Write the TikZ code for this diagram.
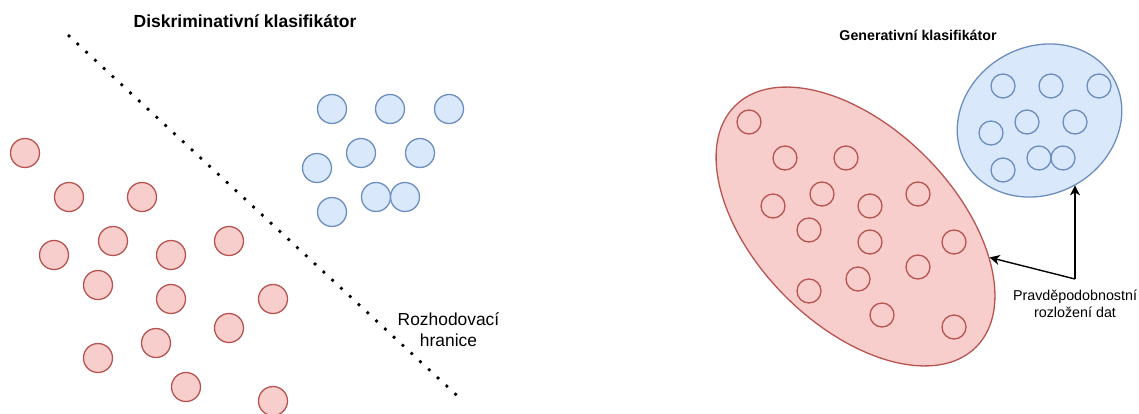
\documentclass[tikz,border=0pt]{standalone}
\usepackage{fontspec}
\setmainfont{Liberation Sans}
\usetikzlibrary{arrows.meta,shapes.geometric}
\definecolor{redF}{HTML}{F8CECC}
\definecolor{redS}{HTML}{B85450}
\definecolor{bluF}{HTML}{DAE8FC}
\definecolor{bluS}{HTML}{6C8EBF}
\tikzset{
  rdot/.style={circle,draw=redS,fill=redF,line width=1.3pt,minimum size=29pt,inner sep=0pt},
  bdot/.style={circle,draw=bluS,fill=bluF,line width=1.3pt,minimum size=29pt,inner sep=0pt},
  rring/.style={circle,draw=redS,line width=1.3pt,minimum size=24pt,inner sep=0pt},
  bring/.style={circle,draw=bluS,line width=1.3pt,minimum size=24pt,inner sep=0pt},
  boundary/.style={line width=2.7pt,dash pattern=on 2.7pt off 9.28pt,black},
  ptr/.style={line width=1.4pt,-{Stealth[length=10pt,width=10pt,inset=3pt]}},
  titlebig/.style={font=\fontsize{17.5}{21}\selectfont\bfseries,inner sep=0pt,anchor=base},
  titlesmall/.style={font=\fontsize{14.2}{17}\selectfont\bfseries,inner sep=0pt,anchor=base},
}
\begin{document}
\begin{tikzpicture}[x=1pt,y=-1pt]
\useasboundingbox (0,0) rectangle (1139,414);
% left panel
\node[titlebig] (t1) at (245,28) {Diskriminativní klasifikátor};
\coordinate (b1) at (68,35);
\coordinate (b2) at (457.5,396);
\draw[boundary] (b1) -- (b2);
\foreach \x/\y [count=\i] in {25/153,69/197,142/197,113/241,54/255,171/255,229/241,98/285,171/299,273/299,229/328,156/343,98/358,186/387,273/401}
  \node[rdot] (L\i) at (\x,\y) {};
\foreach \x/\y [count=\i] in {332/109,390/109,449/109,361/153,420/153,317/168,376/197,405/197,332/212}
  \node[bdot] (B\i) at (\x,\y) {};
\node[font=\fontsize{17.4}{21}\selectfont,align=center,inner sep=0pt,anchor=north] (dec) at (448.5,312) {Rozhodovací\\hranice};
% right panel
\node[titlesmall] (t2) at (918,41) {Generativní klasifikátor};
\node[ellipse,draw=redS,fill=redF,line width=1.3pt,minimum width=341pt,minimum height=198pt,inner sep=0pt,rotate=-45] (rell) at (855.5,226.5) {};
\node[ellipse,draw=bluS,fill=bluF,line width=1.3pt,minimum width=170pt,minimum height=147pt,inner sep=0pt,rotate=30] (bell) at (1039.5,120.5) {};
\foreach \x/\y [count=\i] in {749/122,785/158,846/158,822/194,773/206,870/206,918/194,809/230,870/242,954/242,918/267,858/279,809/291,882/315,954/327}
  \node[rring] (R\i) at (\x,\y) {};
\foreach \x/\y [count=\i] in {1003/86,1051/86,1099/86,1027/122,1075/122,991/133,1039/158,1063/158,1003/170}
  \node[bring] (C\i) at (\x,\y) {};
\node[font=\fontsize{14.3}{17}\selectfont,align=center,inner sep=0pt,anchor=north] (lab) at (1075,289.5) {Pravděpodobnostní\\rozložení dat};
\coordinate (junc) at ([yshift=10.5pt]lab.north);
\draw[ptr] (junc) -- (rell.32);
\draw[ptr] (junc) -- (junc |- bell.269);
\end{tikzpicture}
\end{document}
